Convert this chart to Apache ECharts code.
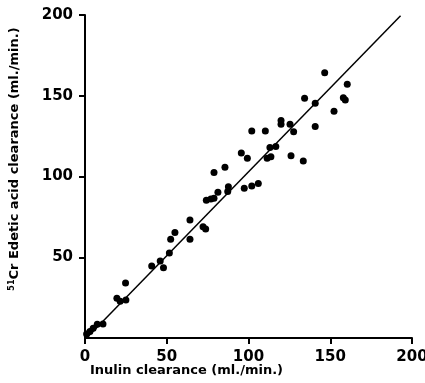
<!DOCTYPE html>
<html>
<head>
<meta charset="utf-8">
<script src="https://cdn.jsdelivr.net/npm/echarts@6/dist/echarts.min.js"></script>
<style>
  html, body { margin: 0; padding: 0; background: #fff; }
  #chart { width: 425px; height: 383px; }
</style>
</head>
<body>
<div id="chart"></div>
<script>
// inulin clearance (x) vs 51Cr edetic acid clearance (y), ml./min.
const inulin = [
  1, 3, 5, 7.5, 11,
  19.5, 21.5, 25, 24.8,
  40.8, 46, 48, 51.6, 52.4, 55, 64.2, 64.2, 72.2, 73.8,
  74.2, 77, 78.9, 81.3, 78.9, 85.6, 87.7, 87.3,
  95.6, 99.3, 97.4, 102, 106, 102, 110.3, 111.4, 113.7, 113.1, 116.7,
  119.9, 119.9, 125.4, 127.6, 126, 133.5, 134.3, 140.8, 140.8,
  146.6, 152.3, 158, 159.2, 160.4
];
const edetic = [
  2.5, 4, 6, 8.5, 8.7,
  24.6, 22.8, 23.5, 34,
  44.6, 47.7, 43.5, 52.6, 61.1, 65.4, 61.1, 73.1, 68.9, 67.5,
  85.3, 86, 86.5, 90.3, 102.4, 105.7, 93.7, 90.7,
  114.6, 111.3, 92.7, 94.1, 95.6, 128.2, 128.2, 111.3, 112.3, 118, 118.5,
  134.7, 132.4, 132.4, 127.7, 112.9, 109.6, 148.4, 145.3, 131,
  164.3, 140.4, 148.8, 147.3, 157.1
];
// fitted line end points
const fitX = [1, 193];
const fitY = [0, 199.5];

const ticks = [0, 50, 100, 150, 200];

const chart = echarts.init(document.getElementById("chart"));

const axisCommon = {
  type: "value",
  min: ticks[0],
  max: ticks[ticks.length - 1],
  interval: 50,
  splitLine: { show: false },
  axisLine: { show: true, lineStyle: { color: "#000", width: 2 } },
  axisTick: { show: true, length: 6, lineStyle: { color: "#000", width: 2 } },
  axisLabel: {
    color: "#000",
    fontFamily: "DejaVu Sans",
    fontSize: 15,
    fontWeight: "bold",
    margin: 12
  },
  nameLocation: "middle",
  nameMoveOverlap: false,
  nameTextStyle: {
    color: "#000",
    fontFamily: "DejaVu Sans",
    fontSize: 13,
    fontWeight: "bold"
  }
};

chart.setOption({
  animation: false,
  grid: { left: 85, right: 13, top: 15, bottom: 45, outerBoundsMode: "none" },
  xAxis: {
    ...axisCommon,
    name: "Inulin clearance (ml./min.)",
    nameGap: 26,
    nameTextStyle: { ...axisCommon.nameTextStyle, padding: [0, 124, 0, 0] }
  },
  yAxis: {
    ...axisCommon,
    axisLabel: { ...axisCommon.axisLabel, showMinLabel: false },
    name: "{sup|51}Cr Edetic acid clearance (ml./min.)",
    nameGap: 63,
    nameTextStyle: {
      ...axisCommon.nameTextStyle,
      padding: [0, 0, 0, 35],
      rich: {
        sup: {
          fontFamily: "DejaVu Sans",
          fontSize: 8,
          fontWeight: "bold",
          color: "#000",
          padding: [0, 0, 6, 0]
        }
      }
    }
  },
  series: [
    {
      type: "line",
      data: fitX.map((x, i) => [x, fitY[i]]),
      symbol: "none",
      lineStyle: { color: "#000", width: 1.5 },
      z: 1
    },
    {
      type: "scatter",
      data: inulin.map((x, i) => [x, edetic[i]]),
      symbol: "circle",
      symbolSize: 7,
      itemStyle: { color: "#000", opacity: 1 },
      z: 2
    }
  ]
});
</script>
</body>
</html>
